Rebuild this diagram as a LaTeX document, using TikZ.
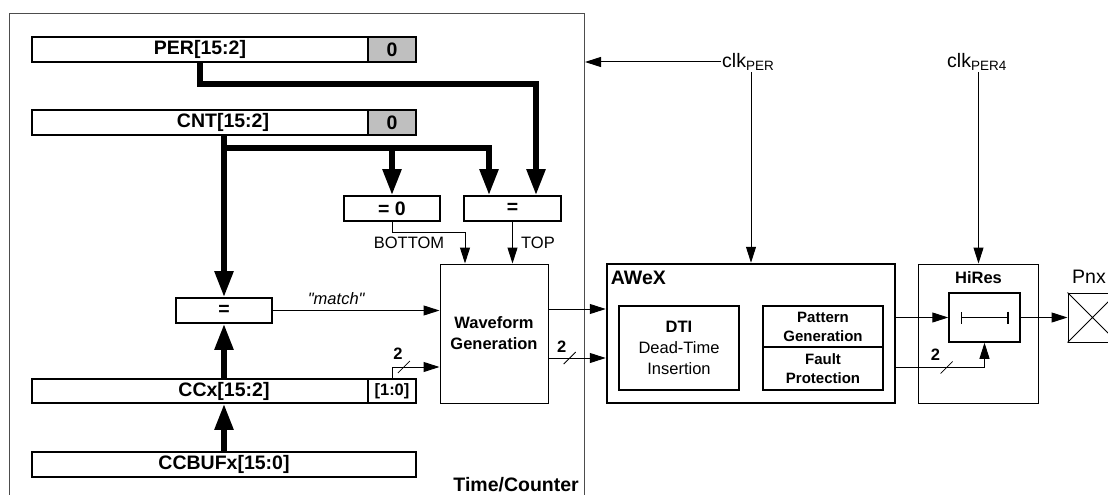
\documentclass[tikz,border=0pt]{standalone}
\usepackage{fontspec}
\setmainfont{Liberation Sans}
\usetikzlibrary{arrows.meta,positioning}
\definecolor{TCGrey}{HTML}{BFBFBF}
\definecolor{TCLine}{HTML}{4D4D4D}
\newcommand{\fbig}{\fontsize{19.5}{22}\selectfont}
\newcommand{\fmid}{\fontsize{16.5}{21}\selectfont}
\newcommand{\fsml}{\fontsize{15}{19}\selectfont}
\newcommand{\clksub}[1]{clk\raisebox{-3pt}{\fontsize{13.5}{14}\selectfont #1}}
\newcommand{\sq}{\XeTeXglyph\XeTeXcharglyph"22\relax}

\begin{document}
\begin{tikzpicture}[x=1pt,y=-1pt,
    frame/.style={draw=TCLine,line width=1pt,inner sep=0pt},
    reg/.style={draw,line width=1.8pt,minimum height=25pt,inner sep=0pt,
      font=\fbig\bfseries},
    field/.style={reg,minimum width=48pt},
    cmp/.style={draw,line width=1.8pt,minimum width=96pt,minimum height=25pt,
      inner sep=0pt,font=\fbig\bfseries},
    blk/.style={draw,line width=1pt,inner sep=0pt,align=center},
    sub/.style={blk,line width=1.8pt,minimum width=120pt},
    bus/.style={-{Triangle[length=26pt,width=18pt]},line width=5.5pt},
    sig/.style={-{Triangle[length=16pt,width=10pt]},line width=1pt},
    tick/.style={line width=0.8pt},
    lbl/.style={font=\fmid,inner sep=0pt}
  ]
  \useasboundingbox (0,0) rectangle (1108,495);
  \clip (0,0) rectangle (1108,495);

  % timer/counter frame
  \node[frame,minimum width=575pt,minimum height=500pt,anchor=north west] (tc) at (9,13) {};
  \node[font=\fbig\bfseries,inner sep=0pt,anchor=east] (tcname) at (579,485) {Time/Counter};

  % registers
  \node[reg,minimum width=384pt] (per) at (224,49.5) {};
  \node[field,fill=TCGrey,anchor=east] (perlo) at (per.east) {0};
  \node[font=\fbig\bfseries,inner sep=0pt] (pername) at (200,49.5) {PER[15:2]};
  \node[reg,minimum width=384pt] (cnt) at (224,122.5) {};
  \node[field,fill=TCGrey,anchor=east] (cntlo) at (cnt.east) {0};
  \node[font=\fbig\bfseries,inner sep=0pt] (cntname) at (223,122.5) {CNT[15:2]};
  \node[reg,minimum width=384pt,minimum height=24pt] (ccx) at (224,391) {CCx[15:2]};
  \node[field,minimum height=24pt,anchor=east,font=\fmid\bfseries] (ccxlo) at (ccx.east) {[1:0]};
  \node[reg,minimum width=384pt] (ccbuf) at (224,464.5) {CCBUFx[15:0]};

  % comparators
  \node[cmp] (eqz) at (392,208.5) {= 0};
  \node[cmp,minimum width=97pt] (eqt) at (512.5,208.5) {=};
  \node[cmp] (eqm) at (224,310.5) {=};

  \node[blk,minimum width=108pt,minimum height=139pt,font=\fmid\bfseries] (wave) at (494,333.5) {Waveform\\Generation};

  % AWeX
  \node[blk,line width=2.5pt,minimum width=288pt,minimum height=139pt] (awex) at (751,333.5) {};
  \node[font=\fbig\bfseries,inner sep=0pt,anchor=west] (awexname) at ([xshift=5pt,yshift=-15pt]awex.north west) {AWeX};
  \node[sub,minimum height=84pt,font=\fmid] (dti) at (679,348) {\textbf{DTI}\\Dead-Time\\Insertion};
  \node[sub,minimum height=41pt,font=\fsml\bfseries] (patgen) at (823,326.5) {Pattern\\Generation};
  \node[sub,minimum height=43pt,font=\fsml\bfseries] (fault) at (823,368.5) {Fault\\Protection};

  % HiRes and pin
  \node[blk,minimum width=120pt,minimum height=139pt] (hires) at (978.5,333.5) {};
  \node[font=\fmid\bfseries,inner sep=0pt] (hiresname) at ([yshift=-14pt]hires.north) {HiRes};
  \node[blk,line width=1.5pt,minimum width=71pt,minimum height=49pt] (hr) at (984.5,317.5) {};
  \draw[{Bar[width=12pt]}-{Bar[width=12pt]},line width=1.2pt] ([xshift=-24pt]hr.center) -- ([xshift=24pt]hr.center);
  \node[blk,minimum size=49pt] (pnx) at (1092.5,317.5) {};
  \draw[line width=0.8pt] (pnx.north west) -- (pnx.south east) (pnx.south west) -- (pnx.north east);
  \node[font=\fbig,inner sep=0pt,anchor=west] (pnxname) at (1072,277) {Pnx};

  % clocks
  \node[font=\fbig,inner sep=1pt,anchor=west] (clkper) at (721,62) {\clksub{PER}};
  \node[font=\fbig,inner sep=1pt,anchor=west] (clkper4) at (946,62) {\clksub{PER4}};
  \draw[sig] (clkper.west) -- (clkper.west -| tc.east);
  \draw[sig] (clkper.south -| awex.north) -- (awex.north);
  \draw[sig] (clkper4.south -| hires.north) -- (hires.north);

  % busses
  \draw[bus] (pername |- per.south) -- ++(0,21) -| ([xshift=23.5pt]eqt.north);
  \draw[bus] (eqm |- cnt.south) -- (eqm.north);
  \draw[bus] (eqm |- cnt.south) ++(0,12) -| (eqz.north);
  \draw[bus] (eqm |- cnt.south) ++(0,12) -| ([xshift=-23.5pt]eqt.north);
  \draw[bus] (ccbuf.north -| eqm) -- (ccx.south -| eqm);
  \draw[bus] (ccx.north -| eqm) -- (eqm.south);

  % signals
  \draw[sig] (eqz.south) -- ++(0,11) -| ([xshift=-29pt]wave.north);
  \draw[sig] (eqt.south) -- (eqt.south |- wave.north);
  \node[lbl] (botlbl) at (409,243) {BOTTOM};
  \node[lbl] (toplbl) at (538,243) {TOP};
  \draw[sig] (eqm.east) -- node[pos=0.38,above=5pt,font=\fmid\itshape,inner sep=0pt] (matchlbl) {\sq match\sq} (eqm.east -| wave.west);
  \draw[sig] (ccxlo.north) |- coordinate[pos=0.625] (ccxtick) ([yshift=-33.5pt]wave.west);
  \draw[sig] ([yshift=24.5pt]wave.east) -- ([yshift=24.5pt]wave.east -| awex.west);
  \draw[sig] ([yshift=-24.5pt]wave.east) -- coordinate[pos=0.37] (wavetick) ([yshift=-24.5pt]wave.east -| awex.west);
  \draw[sig] (awex.east |- hr.west) -- (hr.west);
  \draw[sig] ([yshift=-34pt]awex.east) -| coordinate[pos=0.285] (awextick) (hr.south);
  \draw[sig] (hr.east) -- (pnx.west);

  % bus width marks
  \foreach \t in {ccxtick,wavetick,awextick}
    \draw[tick] ([shift={(-6pt,-6pt)}]\t) -- ([shift={(6pt,6pt)}]\t);
  \node[lbl,font=\fmid\bfseries] (ccxw) at ([shift={(-6pt,13pt)}]ccxtick) {2};
  \node[lbl,font=\fmid\bfseries] (wavew) at ([shift={(-8pt,11pt)}]wavetick) {2};
  \node[lbl,font=\fmid\bfseries] (awexw) at ([shift={(-11pt,13pt)}]awextick) {2};
\end{tikzpicture}
\end{document}
